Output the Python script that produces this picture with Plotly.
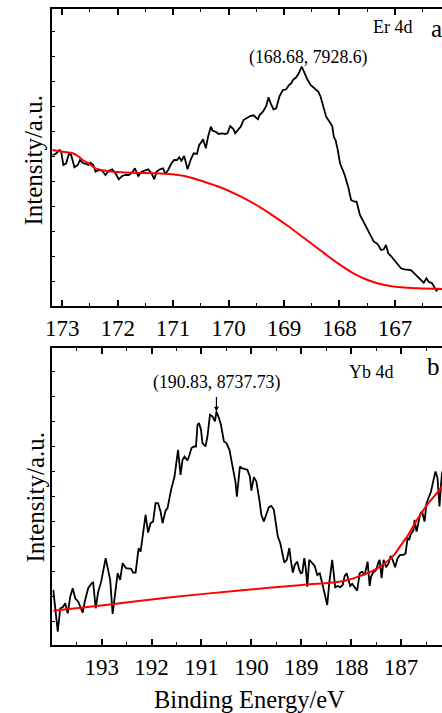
import plotly.graph_objects as go

# ---------------- data: Er 4d (panel a) ----------------
er_be = [173.18, 173.12, 173.05, 173.02, 172.98, 172.93, 172.88, 172.84, 172.78, 172.72,
         172.68, 172.62, 172.57, 172.53, 172.49, 172.44, 172.40, 172.35, 172.28, 172.22,
         172.16, 172.10, 172.04, 171.98, 171.92, 171.86, 171.80, 171.74, 171.69, 171.63,
         171.57, 171.51, 171.45, 171.39, 171.34, 171.30, 171.24, 171.18, 171.14, 171.09,
         171.03, 170.98, 170.93, 170.89, 170.85, 170.80, 170.74, 170.68, 170.63, 170.57,
         170.53, 170.50, 170.46, 170.41, 170.37, 170.32, 170.29, 170.23, 170.18, 170.12,
         170.06, 170.02, 169.97, 169.91, 169.88, 169.82, 169.78, 169.73, 169.68, 169.61,
         169.55, 169.49, 169.47, 169.44, 169.38, 169.32, 169.28, 169.24, 169.19, 169.14,
         169.08, 169.02, 168.96, 168.91, 168.87, 168.84, 168.78, 168.74, 168.68, 168.64,
         168.58, 168.52, 168.46, 168.38, 168.34, 168.28, 168.24, 168.18, 168.13, 168.10,
         168.07, 168.03, 167.99, 167.94, 167.90, 167.84, 167.79, 167.73, 167.69, 167.63,
         167.57, 167.51, 167.45, 167.38, 167.33, 167.29, 167.25, 167.20, 167.16, 167.12,
         167.07, 167.01, 166.95, 166.89, 166.83, 166.77, 166.71, 166.65, 166.59, 166.53,
         166.48, 166.43, 166.39, 166.33, 166.30, 166.25, 166.21, 166.14]
er_int = [7045, 7055, 7095, 7078, 6945, 6962, 7055, 7045, 6922, 6945,
          6995, 6962, 6955, 6945, 6968, 6945, 6878, 6895, 6888, 6845,
          6888, 6902, 6862, 6802, 6835, 6845, 6845, 6868, 6912, 6835,
          6878, 6888, 6902, 6862, 6802, 6878, 6902, 6912, 6855, 6895,
          6962, 6995, 6995, 7022, 6988, 7035, 6902, 7002, 7062, 7055,
          7145, 7168, 7202, 7112, 7228, 7328, 7288, 7278, 7255, 7262,
          7255, 7262, 7335, 7302, 7262, 7302, 7328, 7395, 7412, 7435,
          7442, 7412, 7402, 7445, 7478, 7535, 7622, 7562, 7502, 7512,
          7635, 7695, 7702, 7745, 7762, 7795, 7822, 7855, 7928.6, 7878,
          7802, 7745, 7712, 7678, 7628, 7512, 7428, 7378, 7335, 7222,
          7195, 7095, 6962, 6895, 6835, 6722, 6595, 6578, 6578, 6445,
          6378, 6312, 6245, 6178, 6162, 6135, 6095, 6102, 6145, 6062,
          6035, 5995, 5945, 5912, 5902, 5902, 5895, 5862, 5828, 5802,
          5768, 5812, 5778, 5762, 5735, 5688, 5708, 5702]
er_bg_be = [173.18, 172.99, 172.81, 172.72, 172.63, 172.51, 172.40, 172.22, 171.92, 171.63,
            171.33, 171.03, 170.74, 170.44, 170.15, 169.85, 169.55, 169.26, 168.96, 168.67,
            168.37, 168.07, 167.78, 167.48, 167.19, 166.89, 166.59, 166.14]
er_bg = [7095, 7078, 7062, 7035, 6995, 6955, 6912, 6888, 6872, 6865,
         6862, 6852, 6828, 6778, 6722, 6648, 6562, 6462, 6348, 6228,
         6102, 5978, 5872, 5792, 5745, 5722, 5712, 5705]

# ---------------- data: Yb 4d (panel b) ----------------
yb_be = [193.97, 193.93, 193.88, 193.83, 193.78, 193.73, 193.68, 193.63, 193.58, 193.53,
         193.47, 193.38, 193.34, 193.27, 193.20, 193.17, 193.12, 193.07, 193.01, 192.92,
         192.88, 192.83, 192.78, 192.73, 192.68, 192.63, 192.58, 192.51, 192.41, 192.37,
         192.32, 192.26, 192.22, 192.17, 192.12, 192.07, 192.02, 191.97, 191.92, 191.87,
         191.82, 191.78, 191.72, 191.68, 191.65, 191.61, 191.54, 191.47, 191.42, 191.38,
         191.34, 191.28, 191.24, 191.20, 191.15, 191.11, 191.08, 191.05, 191.01, 190.98,
         190.92, 190.88, 190.83, 190.78, 190.73, 190.70, 190.65, 190.61, 190.55, 190.50,
         190.44, 190.37, 190.32, 190.29, 190.26, 190.23, 190.19, 190.08, 190.03, 190.00,
         189.95, 189.90, 189.84, 189.80, 189.75, 189.70, 189.65, 189.60, 189.55, 189.52,
         189.47, 189.42, 189.37, 189.34, 189.29, 189.24, 189.21, 189.17, 189.13, 189.08,
         189.04, 189.01, 188.98, 188.94, 188.91, 188.88, 188.84, 188.79, 188.73, 188.68,
         188.63, 188.58, 188.53, 188.48, 188.44, 188.38, 188.35, 188.32, 188.27, 188.22,
         188.17, 188.13, 188.09, 188.06, 188.02, 187.98, 187.92, 187.88, 187.83, 187.78,
         187.73, 187.67, 187.63, 187.60, 187.56, 187.50, 187.46, 187.43, 187.39, 187.35,
         187.30, 187.25, 187.21, 187.17, 187.12, 187.07, 187.02, 186.95, 186.91, 186.87,
         186.84, 186.81, 186.75, 186.73, 186.69, 186.64, 186.61, 186.58, 186.53, 186.49,
         186.45, 186.40, 186.35, 186.31, 186.27, 186.23, 186.20, 186.18, 186.10]
yb_int = [6955, 6755, 6538, 6772, 6782, 6822, 6722, 6888, 6972, 6872,
          6838, 6728, 6838, 6972, 7022, 7028, 6772, 6938, 7038, 7272,
          7172, 7055, 6715, 6955, 7122, 7055, 7222, 7172, 7165, 7128,
          7128, 7372, 7338, 7522, 7705, 7528, 7622, 7638, 7822, 7822,
          7738, 7622, 7748, 7772, 7872, 7955, 8088, 8355, 8105, 8255,
          8288, 8248, 8305, 8372, 8388, 8388, 8605, 8622, 8555, 8422,
          8388, 8488, 8705, 8688, 8638, 8737.73, 8672, 8605, 8438, 8422,
          8355, 8172, 8038, 7888, 8055, 8188, 8172, 8155, 8088, 7948,
          8082, 8038, 7855, 7705, 7638, 7722, 7782, 7795, 7755, 7655,
          7488, 7422, 7305, 7228, 7255, 7372, 7255, 7128, 7205, 7238,
          7155, 7122, 7128, 7272, 7172, 6988, 7255, 7228, 7195, 7105,
          7122, 7022, 6922, 6805, 7022, 7255, 7122, 6982, 6995, 6982,
          7005, 7095, 7122, 7072, 6995, 7015, 6972, 6948, 7122, 7138,
          7105, 7238, 6995, 7088, 7128, 7155, 7222, 7255, 7072, 7255,
          7182, 7222, 7295, 7255, 7182, 7272, 7305, 7305, 7322, 7472,
          7455, 7505, 7555, 7655, 7538, 7672, 7722, 7738, 7638, 7822,
          7872, 7938, 8055, 8138, 8072, 7788, 8005, 8122, 8250]
yb_bg_be = [193.97, 192.92, 191.61, 190.29, 188.98, 188.32, 188.06, 187.86, 187.60, 187.40,
            187.14, 187.00, 186.87, 186.68, 186.48, 186.18, 186.10]
yb_bg = [6748, 6805, 6882, 6948, 7005, 7032, 7055, 7088, 7138, 7195,
         7305, 7405, 7495, 7655, 7805, 7988, 8060]

er_peak = (168.68, 7928.6)
yb_peak = (190.70, 8737.73)
x_ticks_a = [173, 172, 171, 170, 169, 168, 167]
x_ticks_b = [193, 192, 191, 190, 189, 188, 187]

# ---------------- figure ----------------
W, H = 442, 713
FONT = "Liberation Serif, Times New Roman, serif"


def px(x):
    return x / W


def py(y):
    return 1 - y / H


fig = go.Figure()
fig.add_trace(go.Scatter(x=er_be, y=er_int, mode="lines", line=dict(color="black", width=1.8),
                         xaxis="x", yaxis="y", showlegend=False))
fig.add_trace(go.Scatter(x=er_bg_be, y=er_bg, mode="lines",
                         line=dict(color="#ff0000", width=2, shape="spline", smoothing=1.0),
                         xaxis="x", yaxis="y", showlegend=False))
fig.add_trace(go.Scatter(x=yb_be, y=yb_int, mode="lines", line=dict(color="black", width=1.8),
                         xaxis="x2", yaxis="y2", showlegend=False))
fig.add_trace(go.Scatter(x=yb_bg_be, y=yb_bg, mode="lines",
                         line=dict(color="#ff0000", width=2, shape="spline", smoothing=0.6),
                         xaxis="x2", yaxis="y2", showlegend=False))

xcommon = dict(showline=True, linecolor="black", linewidth=2, mirror="allticks",
               ticks="inside", ticklen=6, tickwidth=1.5, tickcolor="black",
               showgrid=False, zeroline=False,
               tickfont=dict(family=FONT, size=23, color="black"),
               minor=dict(ticks="inside", ticklen=3, tickwidth=1, tickcolor="black", dtick=0.5,
                          showgrid=False))
ycommon = dict(showline=True, linecolor="black", linewidth=2, mirror=False,
               ticks="inside", ticklen=3, tickwidth=1, tickcolor="black",
               showticklabels=False, showgrid=False, zeroline=False,
               tickmode="linear", dtick=250)

fig.update_layout(
    width=W, height=H,
    margin=dict(l=0, r=0, t=0, b=0),
    paper_bgcolor="white", plot_bgcolor="white",
    xaxis=dict(xcommon, domain=[px(46), 1], range=[173.18, 166.15], anchor="y",
               tickmode="array", tickvals=x_ticks_a, ticktext=[str(v) for v in x_ticks_a]),
    yaxis=dict(ycommon, domain=[py(306), py(9)], range=[5535, 8505], anchor="x", tick0=5778),
    xaxis2=dict(xcommon, domain=[px(46), 1], range=[193.99, 186.18], anchor="y2",
                tickmode="array", tickvals=x_ticks_b, ticktext=[str(v) for v in x_ticks_b]),
    yaxis2=dict(ycommon, domain=[py(645), py(348)], range=[6405, 9372], anchor="x2", tick0=6638),
)

ann = []


def txt(text, x, y, size, **kw):
    ann.append(dict(text=text, x=px(x), y=py(y), xref="paper", yref="paper",
                    showarrow=False, xanchor="center", yanchor="middle",
                    font=dict(family=FONT, size=size, color="black"), **kw))


txt("Er 4d", 392.5, 27, 18)
txt("a", 436, 28, 25)
txt("(168.68, 7928.6)", 306, 57, 17.8)
txt("Yb 4d", 370, 371.5, 18)
txt("b", 433, 367, 25)
txt("(190.83, 8737.73)", 213, 383, 17.8)
txt("Intensity/a.u.", 26, 160, 25, textangle=-90)
txt("Intensity/a.u.", 28, 497, 25, textangle=-90)
txt("Binding Energy/eV", 246, 699, 24.5)

ann.append(dict(text="", x=yb_peak[0], y=yb_peak[1], xref="x2", yref="y2",
                showarrow=True, ax=0, ay=-16, axref="pixel", ayref="pixel",
                arrowhead=2, arrowsize=0.8, arrowwidth=1.2, arrowcolor="black"))

fig.update_layout(annotations=ann)
fig.write_html("out.html")
